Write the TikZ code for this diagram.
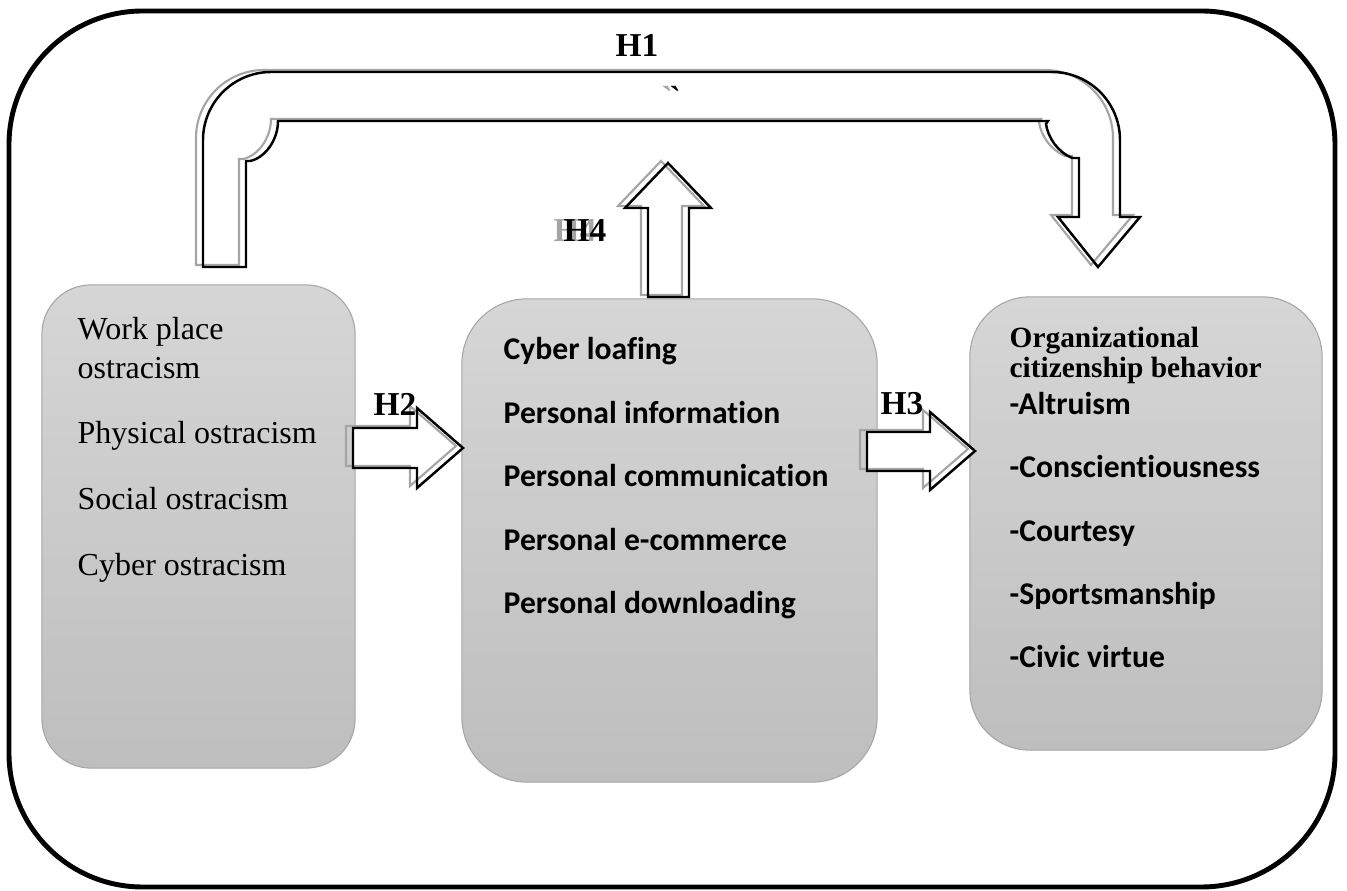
\documentclass[tikz,border=0pt]{standalone}
\usepackage{fontspec}
\setmainfont{Liberation Serif}
\newfontfamily\calibri[Ligatures=NoCommon]{Carlito}
\usetikzlibrary{positioning}
\usetikzlibrary{calc}

\definecolor{boxtop}{RGB}{214,214,214}
\definecolor{boxbot}{RGB}{190,190,190}
\definecolor{boxline}{RGB}{165,165,165}
\definecolor{shade}{RGB}{165,165,165}

\tikzset{
  box/.style={draw=boxline, line width=0.3pt, top color=boxtop, bottom color=boxbot, inner sep=0pt},
  serif/.style={anchor=base west, inner sep=0pt, font=\fontsize{9.1}{11}\selectfont},
  serifbf/.style={anchor=base west, inner sep=0pt, font=\bfseries\fontsize{8.35}{10}\selectfont},
  sansbf/.style={anchor=base west, inner sep=0pt, font=\calibri\bfseries\fontsize{9}{11}\selectfont},
  hlabel/.style={anchor=base west, inner sep=0pt, font=\bfseries\fontsize{9.5}{11}\selectfont},
  blockarrow/.style={draw=black, line width=0.7pt, fill=white, line join=miter},
  ghost/.style={draw=shade, line width=0.6pt}
}

\begin{document}
\begin{tikzpicture}[x=0.01cm,y=-0.01cm]
\useasboundingbox (0,0) rectangle (1347,891);
\draw[line width=1.4pt, rounded corners=38pt] (9,11) rectangle (1335,887);

\node[box, rounded corners=14pt, minimum width=3.13cm, minimum height=4.83cm] (ostra) at (198.5,526.5) {};
\node[box, rounded corners=18.5pt, minimum width=4.15cm, minimum height=4.83cm] (loaf) at (669.5,540.5) {};
\node[box, rounded corners=17pt, minimum width=3.52cm, minimum height=4.53cm] (ocb) at (1146,523.5) {};

\node[serif] (ostra1) at (77,340) {Work place};
\node[serif] (ostra2) at (77,379) {ostracism};
\node[serif] (ostra3) at (77,444) {Physical ostracism};
\node[serif] (ostra4) at (77,510) {Social ostracism};
\node[serif] (ostra5) at (77,576) {Cyber ostracism};

\node[sansbf] (loaf1) at (503,360) {Cyber loafing};
\node[sansbf] (loaf2) at (503,424) {Personal information};
\node[sansbf] (loaf3) at (503,487) {Personal communication};
\node[sansbf] (loaf4) at (503,551) {Personal e-commerce};
\node[sansbf] (loaf5) at (503,614) {Personal downloading};

\node[serifbf] (ocb1) at (1009,348) {Organizational};
\node[serifbf] (ocb2) at (1009,378) {citizenship behavior};
\node[sansbf] (ocb3) at (1009,415) {-Altruism};
\node[sansbf] (ocb4) at (1009,478) {-Conscientiousness};
\node[sansbf] (ocb5) at (1009,542) {-Courtesy};
\node[sansbf] (ocb6) at (1009,605) {-Sportsmanship};
\node[sansbf] (ocb7) at (1009,668) {-Civic virtue};

\fill[white] (203,267) -- (203,140) .. controls (203,102.5) and (233.5,72) .. (271,72)
 -- (1052,72) .. controls (1089.5,72) and (1120,102.5) .. (1120,140) -- (1120,217) -- (1140,217)
 -- (1098,267) -- (1058,217) -- (1079,217) -- (1079,158) -- (1072,158)
 .. controls (1058,152) and (1048,138) .. (1046,124) -- (1048,121) -- (278,121)
 .. controls (278,140) and (265,158) .. (250,161) -- (246,161) -- (246,267) -- cycle;
\draw[ghost, shift={(-7,-2)}] (203,267) -- (203,140) .. controls (203,102.5) and (233.5,72) .. (271,72)
 -- (1052,72) .. controls (1089.5,72) and (1120,102.5) .. (1120,140) -- (1120,217) -- (1140,217)
 -- (1098,267) -- (1058,217) -- (1079,217) -- (1079,158) -- (1072,158)
 .. controls (1058,152) and (1048,138) .. (1046,124) -- (1048,121) -- (278,121)
 .. controls (278,140) and (265,158) .. (250,161) -- (246,161) -- (246,267) -- cycle;
\draw[blockarrow, fill=none] (203,267) -- (203,140) .. controls (203,102.5) and (233.5,72) .. (271,72)
 -- (1052,72) .. controls (1089.5,72) and (1120,102.5) .. (1120,140) -- (1120,217) -- (1140,217)
 -- (1098,267) -- (1058,217) -- (1079,217) -- (1079,158) -- (1072,158)
 .. controls (1058,152) and (1048,138) .. (1046,124) -- (1048,121) -- (278,121)
 .. controls (278,140) and (265,158) .. (250,161) -- (246,161) -- (246,267) -- cycle;

\fill[white] (648,297) -- (648,208) -- (625,208) -- (668,163) -- (711,208) -- (689,208) -- (689,297) -- cycle;
\draw[ghost, shift={(-7,-2)}] (648,297) -- (648,208) -- (625,208) -- (668,163) -- (711,208) -- (689,208) -- (689,297) -- cycle;
\draw[blockarrow, fill=none] (648,297) -- (648,208) -- (625,208) -- (668,163) -- (711,208) -- (689,208) -- (689,297) -- cycle;

\fill[white] (353,428) -- (417,428) -- (417,408) -- (463,448) -- (417,488) -- (417,468) -- (353,468) -- cycle;
\draw[ghost, shift={(-7,-2)}] (353,428) -- (417,428) -- (417,408) -- (463,448) -- (417,488) -- (417,468) -- (353,468) -- cycle;
\draw[blockarrow, fill=none] (353,428) -- (417,428) -- (417,408) -- (463,448) -- (417,488) -- (417,468) -- (353,468) -- cycle;

\fill[white] (867,432) -- (930,432) -- (930,412) -- (975,451) -- (930,490) -- (930,471) -- (867,471) -- cycle;
\draw[ghost, shift={(-7,-2)}] (867,432) -- (930,432) -- (930,412) -- (975,451) -- (930,490) -- (930,471) -- (867,471) -- cycle;
\draw[blockarrow, fill=none] (867,432) -- (930,432) -- (930,412) -- (975,451) -- (930,490) -- (930,471) -- (867,471) -- cycle;

\node[hlabel] (h1) at (615,57) {H1};
\node[hlabel] (h2) at (373,416) {H2};
\node[hlabel] (h3) at (880,415) {H3};
\node[hlabel] (h4) at (563,242) {\rlap{\kern-2.85pt\textcolor{shade}{H4}}H4};
\node[hlabel] (tick) at (669,110) {\rlap{\kern-2.3pt\textcolor{shade}{\textasciigrave}}\textasciigrave};
\end{tikzpicture}
\end{document}
